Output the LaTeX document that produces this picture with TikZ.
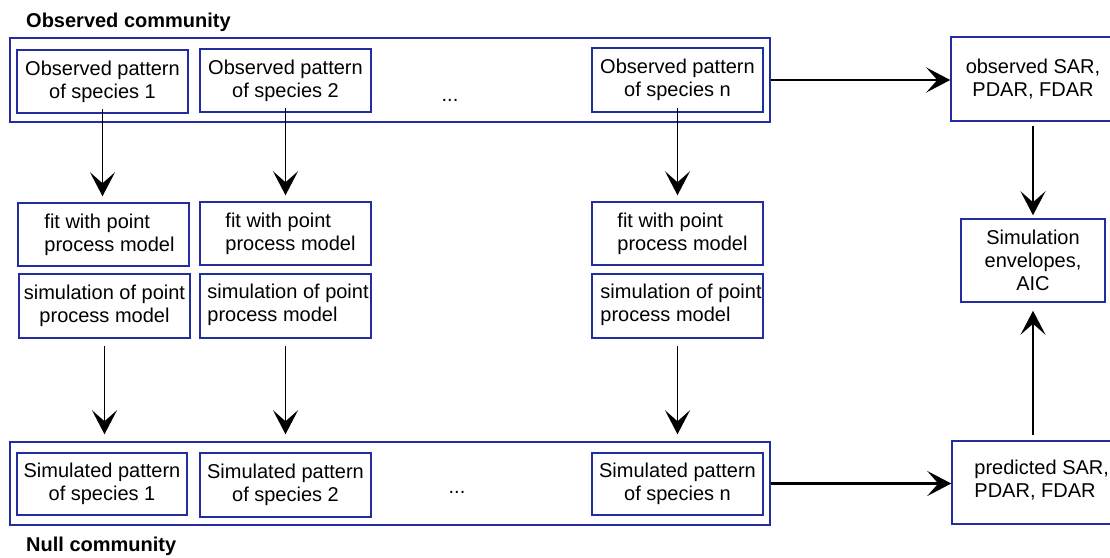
\documentclass[tikz,border=0pt]{standalone}
\usepackage{fontspec}
\setmainfont{Liberation Sans}
\usetikzlibrary{arrows.meta,calc}
\definecolor{boxblue}{RGB}{35,45,160}
\begin{document}
\begin{tikzpicture}[x=1pt,y=-1pt,
  box/.style={draw=boxblue, line width=1.5pt, rectangle, inner sep=0pt,
    font=\fontsize{20}{23}\selectfont, align=center},
  txt/.style={inner sep=0pt, font=\fontsize{20}{23}\selectfont, align=left, anchor=west},
  ttl/.style={inner sep=0pt, font=\fontsize{20}{23}\selectfont\bfseries, anchor=base west},
  dotstxt/.style={inner sep=0pt, font=\fontsize{20}{23}\selectfont, anchor=base},
  arr/.style={-{Stealth[length=24pt,width=25pt,inset=11pt]}, line width=1.6pt},
  harr/.style={arr, line width=2.6pt}]
\useasboundingbox (0,0) rectangle (1110,557);
\clip (0,0) rectangle (1110,557);

% titles
\node[ttl] (tobs) at (26,27) {Observed community};
\node[ttl] (tnull) at (26,551) {Null community};

% observed community
\node[box, minimum width=760, minimum height=84] (top) at (390,80) {};
\node[box, minimum width=171, minimum height=63] (obs1) at (102.5,81.5) {Observed pattern\\of species 1};
\node[box, minimum width=171, minimum height=63] (obs2) at (285.5,80.5) {Observed pattern\\of species 2};
\node[box, minimum width=171, minimum height=64] (obsn) at (677.5,80) {Observed pattern\\of species n};
\node[dotstxt] (dtop) at (450,101) {...};

% right column
\node[box, minimum width=164, minimum height=84] (osar) at (1033,79) {observed SAR,\\PDAR, FDAR};
\node[box, minimum width=144, minimum height=83] (env) at (1033,260.5) {Simulation\\envelopes,\\AIC};
\node[box, minimum width=162, minimum height=83] (pred) at (1033,482.5) {};
\node[txt] (predt) at ($(pred.west)+(23,-2)$) {predicted SAR,\\PDAR, FDAR};

% fit boxes
\node[box, minimum width=171, minimum height=63] (fit1) at (103.5,234.5) {};
\node[box, minimum width=171, minimum height=63] (fit2) at (285.5,233.5) {};
\node[box, minimum width=171, minimum height=63] (fitn) at (677.5,233.5) {};
\node[txt] (fit1t) at ($(fit1.west)+(27,0)$) {fit with point\\process model};
\node[txt] (fit2t) at ($(fit2.west)+(26,0)$) {fit with point\\process model};
\node[txt] (fitnt) at ($(fitn.west)+(26,0)$) {fit with point\\process model};

% simulation boxes
\node[box, minimum width=171, minimum height=64] (sim1) at (104.5,306) {simulation of point\\process model};
\node[box, minimum width=171, minimum height=64] (sim2) at (285.5,306) {};
\node[box, minimum width=171, minimum height=64] (simn) at (677.5,306) {};
\node[txt] (sim2t) at ($(sim2.west)+(8,-1)$) {simulation of point\\process model};
\node[txt] (simnt) at ($(simn.west)+(9,-1)$) {simulation of point\\process model};

% null community
\node[box, minimum width=760, minimum height=83] (bot) at (390,483.5) {};
\node[box, minimum width=170, minimum height=62] (nsp1) at (102,484) {Simulated pattern\\of species 1};
\node[box, minimum width=171, minimum height=64] (nsp2) at (285.5,485) {Simulated pattern\\of species 2};
\node[box, minimum width=171, minimum height=62] (nspn) at (677.5,484) {Simulated pattern\\of species n};
\node[dotstxt] (dbot) at (457,493) {...};

% arrows
\draw[arr] ($(obs1.south)+(0,-5)$) -- ($(obs1.south |- fit1.north)+(0,-6)$);
\draw[arr] ($(obs2.south)+(0,-5)$) -- ($(obs2.south |- fit2.north)+(0,-6)$);
\draw[arr] ($(obsn.south)+(0,-5)$) -- ($(obsn.south |- fitn.north)+(0,-6)$);

\draw[arr] ($(sim1.south)+(0,7)$) -- ($(sim1.south |- nsp1.north)+(0,-18)$);
\draw[arr] ($(sim2.south)+(0,7)$) -- ($(sim2.south |- nsp2.north)+(0,-18)$);
\draw[arr] ($(simn.south)+(0,7)$) -- ($(simn.south |- nspn.north)+(0,-18)$);

\draw[harr] (top.east) -- (top.east -| osar.west);
\draw[harr] (bot.east) -- (bot.east -| pred.west);
\draw[arr] ($(osar.south)+(0,4)$) -- ($(env.north)+(0,-3)$);
\draw[arr] ($(pred.north)+(0,-5)$) -- ($(env.south)+(0,8)$);
\end{tikzpicture}
\end{document}
